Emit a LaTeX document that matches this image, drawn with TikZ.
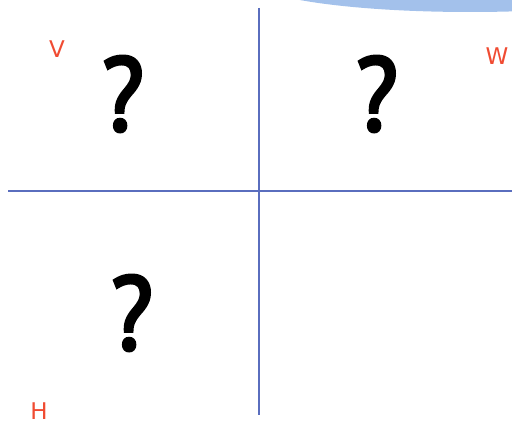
\documentclass[tikz,border=0pt]{standalone}
\usepackage{fontspec}
\usepackage{graphicx}
\setmainfont{DejaVu Sans}
\newfontfamily\qfont[FakeBold=3.5]{PT Sans}
\definecolor{axiscol}{RGB}{90,110,190}
\definecolor{blobcol}{RGB}{163,193,235}
\definecolor{lblcol}{RGB}{240,75,50}
\newcommand{\qm}{\scalebox{0.92}[1]{\qfont ?}}
\begin{document}
\begin{tikzpicture}[x=1pt,y=-1pt,
  axis/.style={draw=axiscol,line width=1.3pt},
  qmark/.style={inner sep=0pt,font=\fontsize{104}{104}\selectfont},
  lbl/.style={inner sep=0pt,text=lblcol,font=\fontsize{23}{23}\selectfont}]
\useasboundingbox (0,0) rectangle (512,425);
\fill[blobcol] (470,-20) ellipse [x radius=218, y radius=32];
\coordinate (vt) at (259,8);
\coordinate (vb) at (259,415);
\coordinate (hl) at (8,191);
\coordinate (hr) at (512,191);
\draw[axis] (vt) -- (vb);
\draw[axis] (hl) -- (hr);
\node[qmark] (q1) at (123,94) {\qm};
\node[qmark] (q2) at (377,94) {\qm};
\node[qmark] (q3) at (132,313) {\qm};
\node[lbl] (v) at (57,49) {V};
\node[lbl] (w) at (497,56) {W};
\node[lbl] (h) at (39,411) {H};
\end{tikzpicture}
\end{document}
